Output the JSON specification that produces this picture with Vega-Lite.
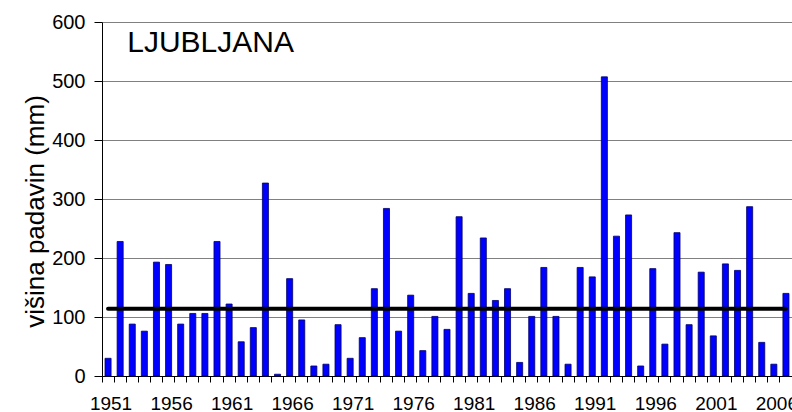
{
  "$schema": "https://vega.github.io/schema/vega-lite/v6.json",
  "width": 690,
  "height": 354,
  "autosize": {"type": "none"},
  "padding": {"left": 102, "top": 22, "right": 0, "bottom": 36},
  "background": "white",
  "config": {
    "view": {"stroke": null},
    "font": "Liberation Sans",
    "axis": {"labelFont": "Liberation Sans", "titleFont": "Liberation Sans"}
  },
  "datasets": {
    "rain": [
      {"year": 1951, "mm": 30}, {"year": 1952, "mm": 228}, {"year": 1953, "mm": 88}, {"year": 1954, "mm": 76},
      {"year": 1955, "mm": 193}, {"year": 1956, "mm": 189}, {"year": 1957, "mm": 88}, {"year": 1958, "mm": 106},
      {"year": 1959, "mm": 106}, {"year": 1960, "mm": 228}, {"year": 1961, "mm": 122}, {"year": 1962, "mm": 58},
      {"year": 1963, "mm": 82}, {"year": 1964, "mm": 327}, {"year": 1965, "mm": 3}, {"year": 1966, "mm": 165},
      {"year": 1967, "mm": 95}, {"year": 1968, "mm": 17}, {"year": 1969, "mm": 20}, {"year": 1970, "mm": 87},
      {"year": 1971, "mm": 30}, {"year": 1972, "mm": 65}, {"year": 1973, "mm": 148}, {"year": 1974, "mm": 284},
      {"year": 1975, "mm": 76}, {"year": 1976, "mm": 137}, {"year": 1977, "mm": 43}, {"year": 1978, "mm": 101},
      {"year": 1979, "mm": 79}, {"year": 1980, "mm": 270}, {"year": 1981, "mm": 140}, {"year": 1982, "mm": 234},
      {"year": 1983, "mm": 128}, {"year": 1984, "mm": 148}, {"year": 1985, "mm": 23}, {"year": 1986, "mm": 101},
      {"year": 1987, "mm": 184}, {"year": 1988, "mm": 101}, {"year": 1989, "mm": 20}, {"year": 1990, "mm": 184},
      {"year": 1991, "mm": 168}, {"year": 1992, "mm": 507}, {"year": 1993, "mm": 237}, {"year": 1994, "mm": 273},
      {"year": 1995, "mm": 17}, {"year": 1996, "mm": 182}, {"year": 1997, "mm": 54}, {"year": 1998, "mm": 243},
      {"year": 1999, "mm": 87}, {"year": 2000, "mm": 176}, {"year": 2001, "mm": 68}, {"year": 2002, "mm": 190},
      {"year": 2003, "mm": 179}, {"year": 2004, "mm": 287}, {"year": 2005, "mm": 57}, {"year": 2006, "mm": 20},
      {"year": 2007, "mm": 140}
    ],
    "mean": [{"year": 1951, "mm": 114}, {"year": 2007, "mm": 114}],
    "label": [{"year": 1953, "mm": 549, "text": "LJUBLJANA"}]
  },
  "layer": [
    {
      "data": {"name": "rain"},
      "mark": {"type": "bar", "color": "#0000FF", "stroke": "#000066", "strokeWidth": 0.8},
      "encoding": {
        "x": {
          "field": "year", "type": "ordinal",
          "scale": {"paddingInner": 0.5, "paddingOuter": 0.25},
          "axis": {
            "title": null, "bandPosition": -0.5, "labelAngle": 0, "labelOffset": 3,
            "labelExpr": "(datum.value - 1951) % 5 == 0 ? datum.label : ''",
            "labelOverlap": false, "labelBound": false, "labelFlush": false,
            "labelFontSize": 19, "labelColor": "black", "labelPadding": 12,
            "tickSize": 6, "tickColor": "black", "domainColor": "black", "grid": false
          }
        },
        "y": {
          "field": "mm", "type": "quantitative",
          "scale": {"domain": [0, 600], "nice": false},
          "axis": {
            "title": "višina padavin (mm)", "titleFontSize": 26, "titleFontWeight": "normal",
            "titleColor": "black", "titlePadding": 3, "titleY": 189,
            "values": [0, 100, 200, 300, 400, 500, 600],
            "labelFontSize": 20, "labelColor": "black", "labelPadding": 9,
            "tickSize": 8, "tickColor": "black", "domainColor": "black",
            "grid": true, "gridColor": "#808080", "gridWidth": 1
          }
        }
      }
    },
    {
      "data": {"name": "mean"},
      "mark": {"type": "line", "color": "black", "strokeWidth": 4, "strokeCap": "round"},
      "encoding": {
        "x": {"field": "year", "type": "ordinal"},
        "y": {"field": "mm", "type": "quantitative"}
      }
    },
    {
      "data": {"name": "label"},
      "mark": {"type": "text", "align": "left", "baseline": "alphabetic", "fontSize": 30, "font": "Liberation Sans", "color": "black", "dx": -2},
      "encoding": {
        "x": {"field": "year", "type": "ordinal", "bandPosition": 0},
        "y": {"field": "mm", "type": "quantitative"},
        "text": {"field": "text"}
      }
    }
  ]
}
